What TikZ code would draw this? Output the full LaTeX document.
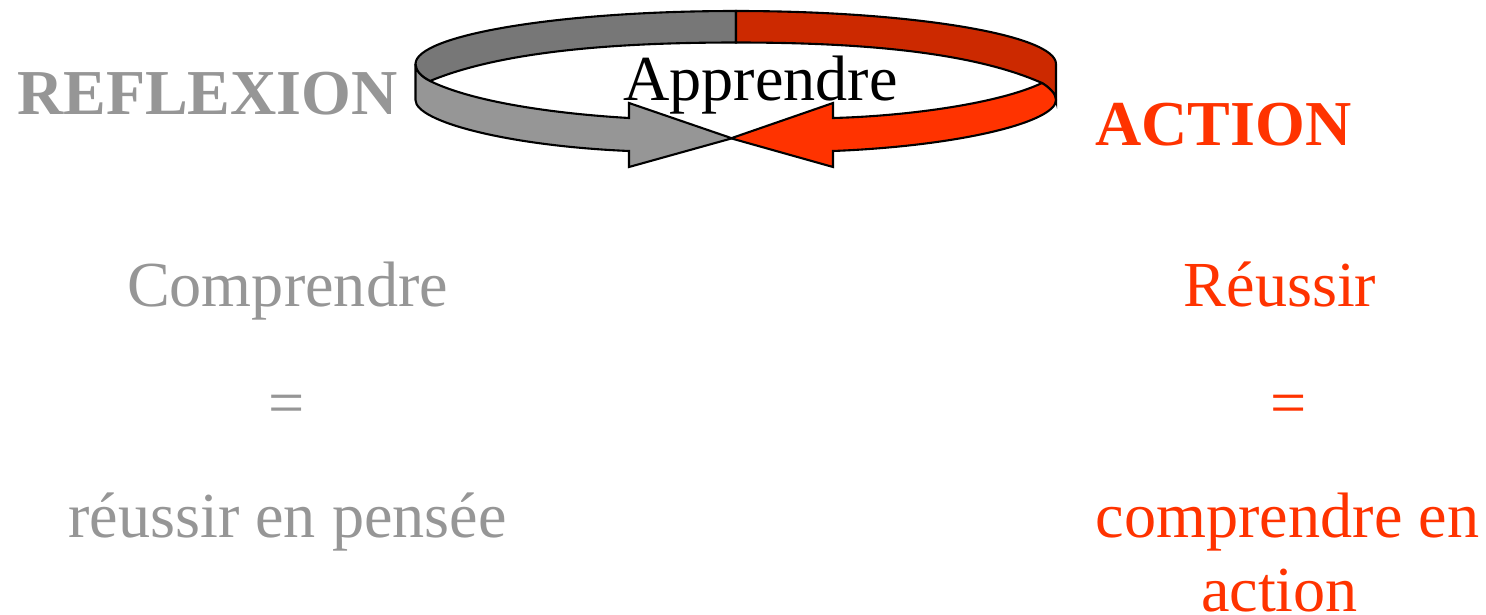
\documentclass[tikz,border=0pt]{standalone}
\usepackage{fontspec}
\setmainfont{Liberation Serif}
\definecolor{gl}{HTML}{969696}
\definecolor{gd}{HTML}{777777}
\definecolor{rl}{HTML}{FF3300}
\definecolor{rd}{HTML}{CC2900}
\tikzset{
 lbl/.style={anchor=base,inner sep=0pt,font=\fontsize{64.2}{70}\selectfont},
 blbl/.style={lbl,font=\fontsize{64}{70}\selectfont\bfseries},
 band/.style={draw=black,line width=2.1pt,line join=miter,miter limit=10}
}
\begin{document}
\begin{tikzpicture}[x=1pt,y=-1pt]
\useasboundingbox (0,0) rectangle (1486,614);
% upper band
\draw[band,fill=gd] (415.5,64) .. controls (415.5,35) and (560,11) .. (736,11) -- (736,42.5)
  .. controls (610,42.5) and (500,52) .. (430,81) .. controls (420,76) and (415.5,70) .. (415.5,64) -- cycle;
\draw[band,fill=rd] (1056,64) .. controls (1056,35) and (912,11) .. (736,11) -- (736,42.5)
  .. controls (862,42.5) and (972,52) .. (1042,83) .. controls (1050,88) and (1056,94) .. (1056,100) -- cycle;
% lower band, grey
\draw[band,fill=gl] (415.5,64) -- (415.5,100) .. controls (415.5,122) and (510,146) .. (629,151)
  -- (629,167) -- (732,138.3) -- (629,103) -- (629,118)
  .. controls (560,114) and (475,103) .. (430,81) .. controls (420,76) and (415.5,70) .. (415.5,64) -- cycle;
% lower band, red
\draw[band,fill=rl] (1042,83) .. controls (1050,88) and (1056,94) .. (1056,100)
  .. controls (1056,122) and (960,146) .. (833,151)
  -- (833,167) -- (731,138.3) -- (833,103) -- (833,118)
  .. controls (910,116) and (1000,103) .. (1042,83) -- cycle;
\node[lbl] (app) at (760.5,100) {Apprendre};
\node[blbl,text=gl] (refl) at (207.5,114) {REFLEXION};
\node[blbl,text=rl] (act) at (1223.5,145) {ACTION};
\node[lbl,text=gl] (comp) at (287.5,306.5) {Comprendre};
\node[lbl,text=gl] (eqa) at (287,424) {=};
\node[lbl,text=gl] (rep) at (287.5,537) {réussir en pensée};
\node[lbl,text=rl] (reu) at (1280,306.5) {Réussir};
\node[lbl,text=rl] (eqb) at (1288.5,424) {=};
\node[lbl,text=rl] (cpr) at (1287.5,537) {comprendre en};
\node[lbl,text=rl] (actn) at (1279.5,611.5) {action};
\end{tikzpicture}
\end{document}
